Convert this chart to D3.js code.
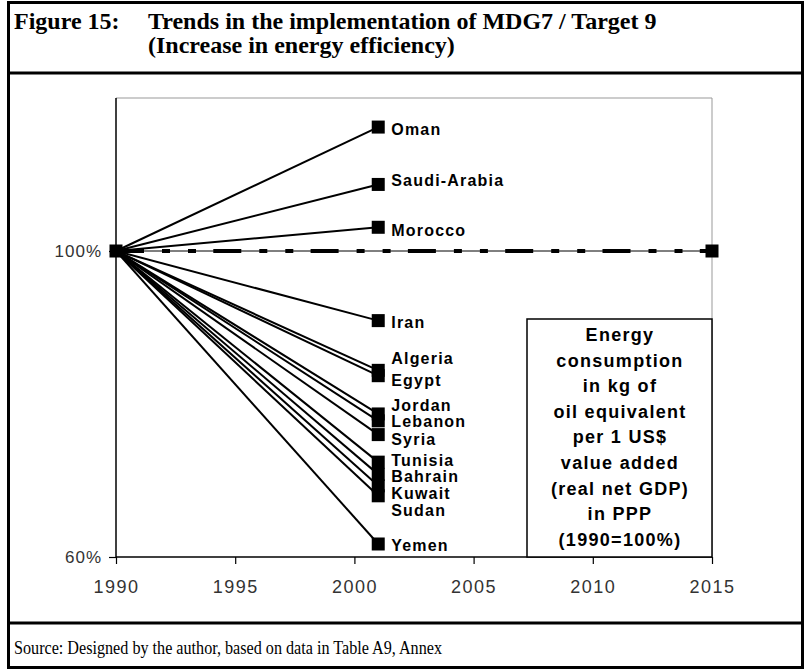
<!DOCTYPE html>
<html><head><meta charset="utf-8">
<script src="https://cdn.jsdelivr.net/npm/d3@7/dist/d3.min.js"></script>
<style>
html,body{margin:0;padding:0;background:#fff;}
svg{display:block;}
</style></head>
<body>
<svg id="chart" width="805" height="670"></svg>
<script>
// ---- data ----
const countries = ["Oman","Saudi-Arabia","Morocco","Iran","Algeria","Egypt","Jordan","Lebanon","Syria","Tunisia","Bahrain","Kuwait","Sudan","Yemen"];
const values2001 = [116.2,108.7,103.1,90.9,84.4,83.7,78.7,77.8,76.0,72.4,70.8,69.3,68.0,61.7];
const baseYear = 1990, endYear = 2001, targetYear = 2015;
const baseValue = 100;
const xTicks = [1990,1995,2000,2005,2010,2015];
const yTicks = [60,100];
const legendLines = ["Energy","consumption","in kg of","oil equivalent","per 1 US$","value added","(real net GDP)","in PPP","(1990=100%)"];
const titleLabel = "Figure 15:";
const titleLines = ["Trends in the implementation of MDG7 / Target 9","(Increase in energy efficiency)"];
const sourceText = "Source: Designed by the author, based on data in Table A9, Annex";

// label nudges in px (layout only)
const labelNudge = {"Oman":2,"Saudi-Arabia":-4,"Morocco":3,"Iran":2,"Algeria":-12,"Egypt":5,"Jordan":-9,"Lebanon":1,"Syria":5,"Tunisia":-2,"Bahrain":2,"Kuwait":8,"Sudan":15,"Yemen":1};

const svg = d3.select("#chart");

// frame
const frame = svg.append("g");
frame.append("rect").attr("x",8.5).attr("y",2.5).attr("width",794).attr("height",665)
  .attr("fill","none").attr("stroke","#000").attr("stroke-width",3);
frame.append("line").attr("x1",8).attr("x2",803).attr("y1",73).attr("y2",73).attr("stroke","#000").attr("stroke-width",3);
frame.append("line").attr("x1",8).attr("x2",803).attr("y1",623).attr("y2",623).attr("stroke","#000").attr("stroke-width",3);

// title
const serif = "'Liberation Serif','Times New Roman',serif";
svg.append("text").attr("x",14).attr("y",29).attr("font-family",serif).attr("font-weight","bold")
  .attr("font-size",24).text(titleLabel);
titleLines.forEach((t,i)=>{
  svg.append("text").attr("x",148).attr("y",29+24*i).attr("font-family",serif).attr("font-weight","bold")
    .attr("font-size",24).text(t);
});
svg.append("text").attr("x",14).attr("y",654).attr("font-family",serif).attr("font-size",19)
  .attr("textLength",428).attr("lengthAdjust","spacingAndGlyphs").text(sourceText);

// scales
const x = d3.scaleLinear().domain([1990,2015]).range([116,712]);
const y = d3.scaleLinear().domain([60,120]).range([557,98]);

const sans = "'Liberation Sans',Arial,sans-serif";

// plot border (gray top & right)
svg.append("line").attr("x1",x(1990)).attr("x2",x(2015)).attr("y1",y(120)).attr("y2",y(120)).attr("stroke","#999").attr("stroke-width",1);
svg.append("line").attr("x1",x(2015)).attr("x2",x(2015)).attr("y1",y(120)).attr("y2",y(60)).attr("stroke","#999").attr("stroke-width",1);

// axes
const xAxis = svg.append("g").attr("transform",`translate(0,${y(60)})`)
  .call(d3.axisBottom(x).tickValues(xTicks).tickFormat(d3.format("d")).tickSize(7).tickPadding(16));
const yAxis = svg.append("g").attr("transform",`translate(${x(1990)},0)`)
  .call(d3.axisLeft(y).tickValues(yTicks).tickFormat(d=>d+"%").tickSize(7).tickPadding(7));
[xAxis,yAxis].forEach(a=>{
  a.select(".domain").attr("stroke","#000").attr("stroke-width",1.5);
  a.selectAll(".tick line").attr("stroke","#000").attr("stroke-width",1.2);
  a.selectAll(".tick text").attr("font-family",sans).attr("font-size",17).attr("fill","#333").attr("letter-spacing","1px");
});
xAxis.selectAll(".tick text").attr("font-size",18).attr("letter-spacing","1.5px");
yAxis.select(".domain").attr("d",`M0,${y(120)}V${y(60)}`);
xAxis.select(".domain").attr("d",`M${x(1990)},0H${x(2015)}`);

// legend box
const lb = svg.append("g");
lb.append("rect").attr("x",527).attr("y",319).attr("width",x(2015)-527).attr("height",y(60)-319)
  .attr("fill","#fff").attr("stroke","#000").attr("stroke-width",1.5);
legendLines.forEach((t,i)=>{
  lb.append("text").attr("x",620).attr("y",341+25.6*i).attr("text-anchor","middle")
    .attr("font-family",sans).attr("font-weight","bold").attr("font-size",18).attr("letter-spacing","1.3px").text(t);
});

// 100% target line
svg.append("line").attr("x1",x(baseYear)).attr("x2",x(targetYear)).attr("y1",y(baseValue)).attr("y2",y(baseValue))
  .attr("stroke","#000").attr("stroke-width",1);
svg.append("line").attr("x1",x(baseYear)).attr("x2",x(targetYear)).attr("y1",y(baseValue)).attr("y2",y(baseValue))
  .attr("stroke","#000").attr("stroke-width",4).attr("stroke-dasharray","28,18,8,18,8,17.3");

// country lines
const data = countries.map((c,i)=>({name:c,v:values2001[i]}));
svg.append("g").selectAll("line").data(data).join("line")
  .attr("x1",x(baseYear)).attr("y1",y(baseValue)).attr("x2",x(endYear)).attr("y2",d=>y(d.v))
  .attr("stroke","#000").attr("stroke-width",2);

// markers
const ms = 13;
const markers = [{yr:baseYear,v:baseValue},{yr:targetYear,v:baseValue}].concat(data.map(d=>({yr:endYear,v:d.v})));
svg.append("g").selectAll("rect").data(markers).join("rect")
  .attr("x",d=>x(d.yr)-ms/2).attr("y",d=>y(d.v)-ms/2).attr("width",ms).attr("height",ms).attr("fill","#000");

// labels
svg.append("g").selectAll("text").data(data).join("text")
  .attr("x",x(endYear)+13).attr("y",d=>y(d.v)+labelNudge[d.name]).attr("dy","0.35em")
  .attr("font-family",sans).attr("font-weight","bold").attr("font-size",16).attr("letter-spacing","1.2px")
  .text(d=>d.name);
</script>
</body></html>
